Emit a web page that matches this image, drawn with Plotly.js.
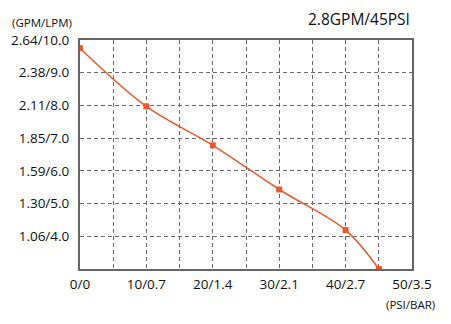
<!DOCTYPE html>
<html>
<head>
<meta charset="utf-8">
<script src="https://cdn.plot.ly/plotly-3.0.1.min.js"></script>
<style>html,body{margin:0;padding:0;background:#fff;}#chart{width:451px;height:324px;}</style>
</head>
<body>
<div id="chart"></div>
<script>
// Pressure (PSI) and flow (LPM)
const pressurePSI = [0, 10, 20, 30, 40, 45];
const flowLPM = [9.75, 7.97, 6.78, 5.43, 4.19, 3.0];
const xTickVals = [0, 10, 20, 30, 40, 50];
const xTickText = ['0/0', '10/0.7', '20/1.4', '30/2.1', '40/2.7', '50/3.5'];
const yTickVals = [4, 5, 6, 7, 8, 9, 10];
const yTickText = ['1.06/4.0', '1.30/5.0', '1.59/6.0', '1.85/7.0', '2.11/8.0', '2.38/9.0', '2.64/10.0'];
const chartTitle = '2.8GPM/45PSI';
const yUnit = '(GPM/LPM)';
const xUnit = '(PSI/BAR)';

const font = 'Open Sans, sans-serif';
const textColor = '#111';
const lineColor = '#E8592C';
const borderColor = '#666';
const gridColor = '#6a6a6a';

const trace = {
  x: pressurePSI, y: flowLPM, type: 'scatter', mode: 'lines+markers',
  line: {color: lineColor, width: 1.5, shape: 'spline', smoothing: 1},
  marker: {color: lineColor, size: 6, symbol: 'square'},
  hoverinfo: 'skip', showlegend: false
};

const layout = {
  width: 451, height: 324,
  margin: {l: 80, r: 39, t: 40, b: 55, pad: 0},
  paper_bgcolor: '#fff', plot_bgcolor: '#fff',
  font: {family: font, color: textColor, size: 13},
  xaxis: {
    range: [0, 50], tickvals: xTickVals, ticktext: xTickText,
    showgrid: true, gridcolor: gridColor, griddash: '4px,3px', gridwidth: 1,
    minor: {dtick: 5, tick0: 0, showgrid: true, gridcolor: gridColor, griddash: '4px,3px', gridwidth: 1},
    showline: true, mirror: true, linecolor: borderColor, linewidth: 2,
    zeroline: false, ticks: '', tickfont: {family: font, size: 13.5, color: textColor},
    ticklabelstandoff: 2, fixedrange: true
  },
  yaxis: {
    range: [3, 10], tickvals: yTickVals, ticktext: yTickText,
    showgrid: true, gridcolor: gridColor, griddash: '4px,3px', gridwidth: 1,
    showline: true, mirror: true, linecolor: borderColor, linewidth: 2,
    zeroline: false, ticks: '', tickfont: {family: font, size: 13.5, color: textColor},
    ticklabelstandoff: 6, fixedrange: true
  },
  annotations: [
    {text: chartTitle, xref: 'paper', yref: 'paper', x: 1, y: 1, xanchor: 'right', yanchor: 'bottom',
     yshift: 8, showarrow: false, font: {family: font, size: 15.5, color: textColor}},
    {text: yUnit, xref: 'paper', yref: 'paper', x: 0, y: 1, xanchor: 'right', yanchor: 'bottom',
     xshift: -6, yshift: 8, showarrow: false, font: {family: font, size: 11.5, color: textColor}},
    {text: xUnit, xref: 'paper', yref: 'paper', x: 1, y: 0, xanchor: 'center', yanchor: 'top',
     xshift: -2, yshift: -26, showarrow: false, font: {family: font, size: 11.5, color: textColor}}
  ]
};

Plotly.newPlot('chart', [trace], layout, {staticPlot: true, displayModeBar: false});
</script>
</body>
</html>
